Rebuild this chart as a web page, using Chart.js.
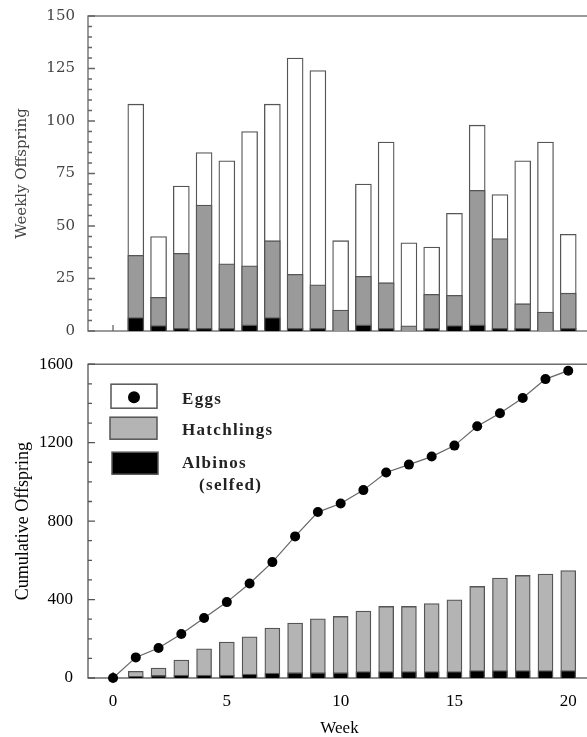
<!DOCTYPE html>
<html>
<head>
<meta charset="utf-8">
<script src="https://cdn.jsdelivr.net/npm/chart.js@4.4.1/dist/chart.umd.min.js"></script>
<style>
body { margin: 0; background: #fff; }
#wrap { position: relative; width: 587px; height: 737px; overflow: hidden; }
#wrap canvas { position: absolute; left: 0; }
#weekly { top: -6px; }
#cumul { top: 339px; }
</style>
</head>
<body>
<div id="wrap">
  <canvas id="weekly" width="596" height="359"></canvas>
  <canvas id="cumul" width="596" height="398"></canvas>
</div>
<script>
// weekly offspring, weeks 1-20
var weeks = [1, 2, 3, 4, 5, 6, 7, 8, 9, 10, 11, 12, 13, 14, 15, 16, 17, 18, 19, 20];
var weeklyEggs = [108, 45, 69, 85, 81, 95, 108, 130, 124, 43, 70, 90, 42, 40, 56, 98, 65, 81, 90, 46];
var weeklyHatchlings = [36, 16, 37, 60, 32, 31, 43, 27, 22, 10, 26, 23, 2.5, 17.5, 17, 67, 44, 13, 9, 18];
var weeklyAlbinos = [6.4, 2.6, 1.3, 1.3, 1.3, 2.9, 6.4, 1.3, 1.3, 0, 2.9, 1.3, 0, 1.3, 2.6, 2.9, 1.3, 1.3, 0, 1.3];

// cumulative offspring (bottom panel)
var cumWeeks = [0, 1, 2, 3, 4, 5, 6, 7, 8, 9, 10, 11, 12, 13, 14, 15, 16, 17, 18, 19, 20];
var cumEggs = [0, 105, 153, 224, 306, 387, 482, 591, 722, 846, 890, 958, 1048, 1088, 1129, 1185, 1284, 1350, 1428, 1524, 1567];
var cumHatchlings = [34, 51, 92, 149, 183, 210, 255, 280, 302, 314, 341, 365, 365, 380, 399, 467, 510, 523, 530, 548];
var cumAlbinos = [8, 13, 15, 15, 15, 20, 25, 27, 27, 27, 33, 33, 33, 33, 33, 38, 38, 38, 38, 38];

// axis tick labels
var weeklyTicks = [0, 25, 50, 75, 100, 125, 150];
var cumTicks = [0, 400, 800, 1200, 1600];
var weekTicks = [0, 5, 10, 15, 20];

function pts(xs, ys) {
    return xs.map(function (x, i) { return { x: x, y: ys[i] }; });
}

function fixedTicks(list) {
    return function (scale) {
        scale.ticks = list.map(function (v) { return { value: v }; });
    };
}

function plainNum(v) {
    return String(v);
}

// box round the plot and little inward tick marks
var framePlugin = {
    id: 'frame',
    beforeDatasetsDraw: function (chart, args, opts) {
        var ctx = chart.ctx, a = chart.chartArea;
        var ys = chart.scales.y, xs = chart.scales.x;
        ctx.save();
        ctx.strokeStyle = opts.color;
        ctx.lineWidth = opts.width;
        ctx.beginPath();
        for (var v = ys.min; v <= ys.max; v += opts.minorStep) {
            var py = ys.getPixelForValue(v);
            var len = (v % opts.majorStep === 0) ? 7 : 4;
            ctx.moveTo(a.left, py);
            ctx.lineTo(a.left + len, py);
        }
        cumWeeks.forEach(function (w) {
            var px = xs.getPixelForValue(w);
            ctx.moveTo(px, a.bottom);
            ctx.lineTo(px, a.bottom - 6);
        });
        ctx.stroke();
        ctx.strokeRect(a.left, a.top, a.right - a.left, a.bottom - a.top);
        ctx.restore();
    }
};

// legend drawn inside the lower panel, like the original
var boxLegend = {
    id: 'boxLegend',
    afterDraw: function (chart) {
        var ctx = chart.ctx, a = chart.chartArea;
        var ds = chart.data.datasets;
        var x0 = a.left + 23, tx = a.left + 94;
        ctx.save();
        ctx.lineWidth = 1.5;
        ctx.strokeStyle = '#555';
        ctx.font = 'bold 17px "Liberation Serif"';
        ctx.letterSpacing = '1.3px';
        ctx.textBaseline = 'middle';

        // eggs: white box with a dot
        ctx.fillStyle = '#fff';
        ctx.fillRect(x0, a.top + 20, 46, 24);
        ctx.strokeRect(x0, a.top + 20, 46, 24);
        ctx.fillStyle = '#000';
        ctx.beginPath();
        ctx.arc(x0 + 23, a.top + 33, 6, 0, Math.PI * 2);
        ctx.fill();

        // hatchlings
        ctx.fillStyle = ds[2].backgroundColor;
        ctx.fillRect(x0 - 1, a.top + 53, 47, 22);
        ctx.strokeRect(x0 - 1, a.top + 53, 47, 22);

        // albinos
        ctx.fillStyle = ds[1].backgroundColor;
        ctx.fillRect(x0 + 1, a.top + 88, 46, 22);
        ctx.strokeRect(x0 + 1, a.top + 88, 46, 22);

        ctx.fillStyle = '#222';
        ctx.fillText(ds[0].label, tx, a.top + 35);
        ctx.fillText(ds[2].label, tx, a.top + 66);
        var alb = ds[1].label.split('\n');
        ctx.fillText(alb[0], tx, a.top + 99);
        ctx.fillText(alb[1], tx + 17, a.top + 121);
        ctx.restore();
    }
};

var topFont = { family: 'DejaVu Serif', size: 15 };
var lowFont = { family: 'Liberation Serif', size: 17 };

new Chart(document.getElementById('weekly'), {
    type: 'bar',
    data: {
        datasets: [
            { label: 'Albinos', data: pts(weeks, weeklyAlbinos), backgroundColor: '#000' },
            { label: 'Hatchlings', data: pts(weeks, weeklyHatchlings), backgroundColor: '#9a9a9a' },
            { label: 'Eggs', data: pts(weeks, weeklyEggs), backgroundColor: '#fff' }
        ]
    },
    options: {
        responsive: false,
        animation: false,
        layout: { padding: { top: 10, right: 5 } },
        datasets: {
            bar: { grouped: false, barThickness: 16, borderColor: '#555', borderWidth: 1.3, borderSkipped: 'start' }
        },
        plugins: {
            legend: { display: false },
            tooltip: { enabled: false },
            frame: { color: '#666', width: 1.3, minorStep: 5, majorStep: 25 }
        },
        scales: {
            x: {
                type: 'linear', min: -1.1, max: 21, offset: false,
                grid: { display: false, drawTicks: false },
                border: { display: false },
                ticks: { display: false },
                afterFit: function (s) { s.height = 7; }
            },
            y: {
                min: 0, max: 150,
                grid: { display: false, drawTicks: false },
                border: { display: false },
                afterBuildTicks: fixedTicks(weeklyTicks),
                ticks: { padding: 13, color: '#444', font: topFont, callback: plainNum },
                title: { display: true, text: 'Weekly Offspring', color: '#444', font: topFont, padding: { top: 13, bottom: 0 } },
                afterFit: function (s) { s.width = 88; }
            }
        }
    },
    plugins: [framePlugin]
});

new Chart(document.getElementById('cumul'), {
    type: 'bar',
    data: {
        datasets: [
            {
                type: 'line', label: 'Eggs', data: pts(cumWeeks, cumEggs),
                borderColor: '#666', borderWidth: 1.2, tension: 0, fill: false, clip: false,
                pointRadius: 5, pointBackgroundColor: '#000', pointBorderColor: '#000', pointBorderWidth: 0
            },
            { label: 'Albinos\n(selfed)', data: pts(weeks, cumAlbinos), backgroundColor: '#000' },
            { label: 'Hatchlings', data: pts(weeks, cumHatchlings), backgroundColor: '#b4b4b4' }
        ]
    },
    options: {
        responsive: false,
        animation: false,
        layout: { padding: { top: 13, right: 5 } },
        datasets: {
            bar: { grouped: false, barThickness: 15, borderColor: '#555', borderWidth: 1.3, borderSkipped: 'start' }
        },
        plugins: {
            legend: { display: false },
            tooltip: { enabled: false },
            frame: { color: '#555', width: 1.3, minorStep: 100, majorStep: 400 }
        },
        scales: {
            x: {
                type: 'linear', min: -1.1, max: 21, offset: false,
                grid: { display: false, drawTicks: false },
                border: { display: false },
                afterBuildTicks: fixedTicks(weekTicks),
                ticks: { padding: 13, color: '#000', font: lowFont, maxRotation: 0, callback: plainNum },
                title: { display: true, text: 'Week', color: '#000', font: { family: 'Liberation Serif', size: 17, lineHeight: 1 }, padding: { top: 0, bottom: 0 } },
                afterFit: function (s) { s.height = 59; }
            },
            y: {
                min: 0, max: 1600,
                grid: { display: false, drawTicks: false },
                border: { display: false },
                afterBuildTicks: fixedTicks(cumTicks),
                ticks: { padding: 15, color: '#000', font: lowFont, callback: plainNum },
                title: { display: true, text: 'Cumulative Offspring', color: '#000', font: { family: 'Liberation Serif', size: 18 }, padding: { top: 12, bottom: 0 } },
                afterFit: function (s) { s.width = 88; }
            }
        }
    },
    plugins: [framePlugin, boxLegend]
});
</script>
</body>
</html>
